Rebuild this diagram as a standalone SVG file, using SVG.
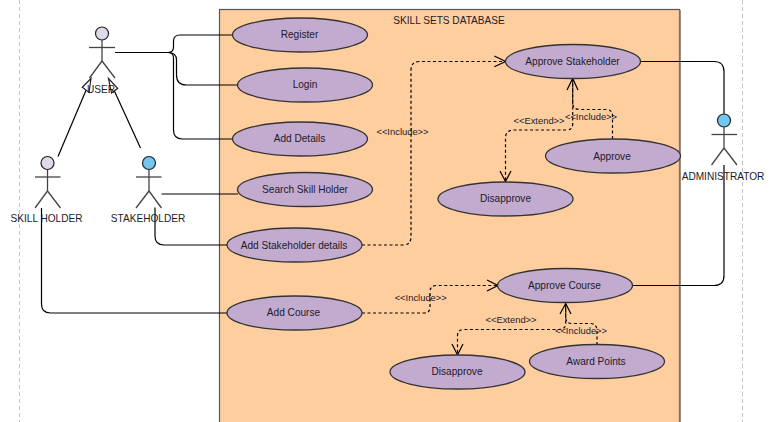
<svg xmlns="http://www.w3.org/2000/svg" width="771" height="422" viewBox="0 0 771 422">
<style>
text{font-family:"Liberation Sans",Arial,sans-serif;font-size:10.1px;fill:#1a1a2a;text-anchor:middle;dominant-baseline:central}
.lbl{font-size:9.4px}
.uc ellipse{fill:#c3abd0;stroke:#333;stroke-width:1.3}
.actor line{stroke:#444;stroke-width:1.3}
.actor circle{stroke:#222;stroke-width:1.2}
.lavender circle{fill:#e2d9e8}
.blue circle{fill:#70c8f0}
.c{fill:none;stroke:#000;stroke-width:1.2}
.d{stroke-dasharray:3 2.5}
.open{fill:none;stroke:#000;stroke-width:1.2}
.tri{fill:#fff;stroke:#222;stroke-width:1.2}
.guide{stroke:#c4c4c4;stroke-width:1;stroke-dasharray:4 3}
</style>
<line class="guide" x1="19.5" y1="0" x2="19.5" y2="422"/>
<line class="guide" x1="742.5" y1="0" x2="742.5" y2="422"/>
<g id="system">
<rect x="219.5" y="9.5" width="460" height="420" fill="#ffce9f" stroke="#555" stroke-width="1.2"/>
<line x1="680" y1="10" x2="680" y2="422" stroke="#86786c" stroke-width="1.6"/>
<text x="449" y="20">SKILL SETS DATABASE</text>
</g>
<g id="connectors">
<path class="c" d="M115 52.500H168Q173.500 52.500 173.500 47V41Q173.500 35 180 35H232"/>
<path class="c" d="M168 52.500Q176.500 52.500 176.500 60V75Q176.500 85 186.500 85H238"/>
<path class="c" d="M168 52.500Q173.500 52.500 173.500 58V130Q173.500 139 182.500 139H232"/>
<path class="c" d="M58 156.500L87 88"/>
<path class="c" d="M140.500 148L113 88"/>
<path class="tri" d="M91 78.500L82.300 87.300L89 92.500Z"/>
<path class="tri" d="M108.500 78.500L117.700 88.300L111.500 93Z"/>
<path class="c" d="M161.500 194H238"/>
<path class="c" d="M155 207.500V236Q155 245 164 245H228"/>
<path class="c" d="M41.500 208V304Q41.500 313 50.500 313H228"/>
<path class="c" d="M640 61.500H714Q724 61.500 724 71.500V114"/>
<path class="c" d="M632 285.500H714Q724 285.500 724 275.500V165"/>
<path class="c d" d="M362 245H403Q411 245 411 237V70Q411 62 419 61.500H505"/>
<path class="open" d="M494.300 56L505.700 61.500L494.300 66.700"/>
<path class="c d" d="M612.500 139V116Q612.500 109.500 606 109.500H580Q572.700 109.500 572.700 103V79"/>
<path class="open" d="M567 90L572.700 78.500L578 90"/>
<path class="c d" d="M572.700 79V124Q572.700 130 566 130H514Q505.500 130 505.500 138V181"/>
<path class="open" d="M500 171L505.500 181.500L511 171"/>
<path class="c d" d="M362 313H424Q430 313 430 307V292Q430 285.500 436.500 285.500H498"/>
<path class="open" d="M487 280L498 285.500L487 291"/>
<path class="c d" d="M597 345V331Q597 323.500 590 323.500H572Q565.700 323.500 565.700 317V304"/>
<path class="open" d="M560 314L565.700 303.500L571 314"/>
<path class="c d" d="M565.700 304V323Q565.700 329.500 559 329.500H464Q457.500 329.500 457.500 336V354"/>
<path class="open" d="M452 344L457.500 355L463 344"/>
<text class="lbl" x="402.500" y="131">&lt;&lt;Include&gt;&gt;</text>
<text class="lbl" x="539" y="120.500">&lt;&lt;Extend&gt;&gt;</text>
<text class="lbl" x="591" y="116.500">&lt;&lt;Include&gt;&gt;</text>
<text class="lbl" x="420.700" y="297.500">&lt;&lt;Include&gt;&gt;</text>
<text class="lbl" x="511" y="319.500">&lt;&lt;Extend&gt;&gt;</text>
<text class="lbl" x="581" y="330.500">&lt;&lt;Include&gt;&gt;</text>
</g>
<g id="user" class="actor lavender"><circle cx="102" cy="33.500" r="6.500"/><line x1="89" y1="47.500" x2="115" y2="47.500"/><line x1="102" y1="40" x2="102" y2="61"/><line x1="102" y1="61" x2="89.500" y2="78"/><line x1="102" y1="61" x2="115" y2="78"/><text x="101" y="89">USER</text></g>
<g id="skill-holder" class="actor lavender"><circle cx="47.500" cy="163" r="6.500"/><line x1="35" y1="177" x2="60.500" y2="177"/><line x1="47.500" y1="169.500" x2="47.500" y2="191"/><line x1="47.500" y1="191" x2="35" y2="208"/><line x1="47.500" y1="191" x2="60.500" y2="208"/><text x="46.500" y="218.500">SKILL HOLDER</text></g>
<g id="stakeholder" class="actor blue"><circle cx="149" cy="163" r="6.500"/><line x1="136" y1="177" x2="161.500" y2="177"/><line x1="149" y1="169.500" x2="149" y2="191"/><line x1="149" y1="191" x2="136" y2="208"/><line x1="149" y1="191" x2="161.500" y2="208"/><text x="148" y="218.500">STAKEHOLDER</text></g>
<g id="administrator" class="actor blue"><circle cx="724" cy="120.500" r="6.500"/><line x1="711.500" y1="134.500" x2="737" y2="134.500"/><line x1="724" y1="127" x2="724" y2="148"/><line x1="724" y1="148" x2="711.500" y2="165"/><line x1="724" y1="148" x2="737" y2="165"/><text x="723" y="176.500">ADMINISTRATOR</text></g>
<g id="register" class="uc"><ellipse cx="300" cy="35" rx="67.500" ry="17"/><text x="299.500" y="34.500">Register</text></g>
<g id="login" class="uc"><ellipse cx="305" cy="85" rx="67.500" ry="17"/><text x="305" y="84.500">Login</text></g>
<g id="add-details" class="uc"><ellipse cx="300" cy="139" rx="67.500" ry="17"/><text x="299.500" y="138.500">Add Details</text></g>
<g id="search-skill-holder" class="uc"><ellipse cx="305" cy="189.500" rx="67.500" ry="17"/><text x="305" y="189.500">Search Skill Holder</text></g>
<g id="add-stakeholder-details" class="uc"><ellipse cx="294.500" cy="245" rx="67.500" ry="17"/><text x="294" y="245">Add Stakeholder details</text></g>
<g id="add-course" class="uc"><ellipse cx="294.500" cy="313" rx="67.500" ry="17"/><text x="293.500" y="312">Add Course</text></g>
<g id="approve-stakeholder" class="uc"><ellipse cx="573" cy="61.500" rx="67.500" ry="17"/><text x="572.500" y="61">Approve Stakeholder</text></g>
<g id="approve" class="uc"><ellipse cx="613" cy="156" rx="67.500" ry="17"/><text x="612" y="156">Approve</text></g>
<g id="disapprove-1" class="uc"><ellipse cx="505.500" cy="199" rx="67.500" ry="17"/><text x="505.500" y="198.500">Disapprove</text></g>
<g id="approve-course" class="uc"><ellipse cx="565" cy="285.500" rx="67.500" ry="17"/><text x="564.500" y="285">Approve Course</text></g>
<g id="award-points" class="uc"><ellipse cx="597" cy="361.500" rx="67.500" ry="17"/><text x="596" y="361">Award Points</text></g>
<g id="disapprove-2" class="uc"><ellipse cx="457.500" cy="372" rx="67.500" ry="17"/><text x="457" y="371.500">Disapprove</text></g>
</svg>
